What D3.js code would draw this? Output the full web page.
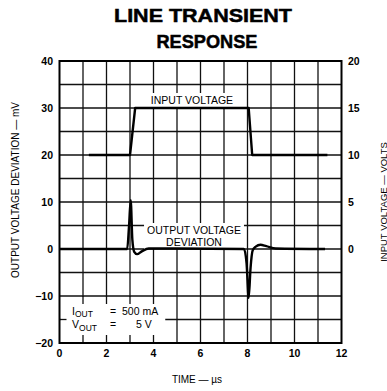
<!DOCTYPE html>
<html><head><meta charset="utf-8">
<script src="https://cdn.jsdelivr.net/npm/d3@7"></script>
<style>
html,body{margin:0;padding:0;background:#fff;overflow:hidden}
svg{display:block;font-family:"Liberation Sans",Arial,Helvetica,sans-serif}
</style></head>
<body><svg id="c" width="387" height="391"></svg>
<script>
// ---- data ----
const titleLines = ["LINE TRANSIENT", "RESPONSE"];
const xTicks = [0, 2, 4, 6, 8, 10, 12];
const leftTicks = [-20, -10, 0, 10, 20, 30, 40];
const rightTicks = [0, 5, 10, 15, 20];
const inputTime  = [1.25, 3.0, 3.22, 8.05, 8.2, 11.4];
const inputVolts = [10, 10, 15, 15, 10, 10];
const outputTime = [0.0, 2.88, 2.96, 3.03, 3.1, 3.18, 3.3, 3.5, 3.8, 5.0, 7.85, 7.96, 8.05, 8.13, 8.22, 8.35, 8.55, 8.8, 9.2, 11.3];
const outputMv   = [0.0, 0.0, 5.0, 10.4, 2.0, -0.6, -1.1, -0.5, 0.1, 0.1, 0.0, -3.0, -10.4, -4.0, -0.3, 0.5, 0.9, 0.6, 0.1, 0.0];
const xLabel = "TIME — µs";
const leftLabel = "OUTPUT VOLTAGE DEVIATION — mV";
const rightLabel = "INPUT VOLTAGE — VOLTS";

// ---- layout ----
const L = 59.5, R = 341.5, T = 61, B = 343;
const svg = d3.select("#c");
const x = d3.scaleLinear().domain([0, 12]).range([L, R]);
const yL = d3.scaleLinear().domain([-20, 40]).range([B, T]);
const yR = d3.scaleLinear().domain([-10, 20]).range([B, T]);

// title
svg.append("text").attr("x", 203).attr("y", 22).attr("text-anchor", "middle")
  .attr("font-size", 19).attr("font-weight", "bold").attr("textLength", 178)
  .attr("lengthAdjust", "spacingAndGlyphs").attr("stroke", "#000").attr("stroke-width", 0.5)
  .text(titleLines[0]);
svg.append("text").attr("x", 207).attr("y", 48).attr("text-anchor", "middle")
  .attr("font-size", 19).attr("font-weight", "bold").attr("textLength", 101)
  .attr("lengthAdjust", "spacingAndGlyphs").attr("stroke", "#000").attr("stroke-width", 0.5)
  .text(titleLines[1]);

// grid
const g = svg.append("g");
const vgrid = d3.range(1, 12);
const hgrid = d3.range(-15, 40, 5);
g.selectAll(".vg").data(vgrid).join("line")
  .attr("x1", d => x(d)).attr("x2", d => x(d)).attr("y1", T).attr("y2", B)
  .attr("stroke", "#111").attr("stroke-width", 1.3);
g.selectAll(".hg").data(hgrid).join("line")
  .attr("x1", L).attr("x2", R).attr("y1", d => yL(d)).attr("y2", d => yL(d))
  .attr("stroke", "#111").attr("stroke-width", 1.3);

// annotation box (bottom-left) clears grid
g.append("rect").attr("x", L + 1).attr("y", yL(-10) + 1)
  .attr("width", x(4.5) - L - 1).attr("height", B - yL(-10) - 2).attr("fill", "#fff");
[1, 2, 3, 4].forEach(t => {
  g.append("line").attr("x1", x(t)).attr("x2", x(t)).attr("y1", yL(-10)).attr("y2", yL(-10) + 8)
    .attr("stroke", "#111").attr("stroke-width", 1.3);
  g.append("line").attr("x1", x(t)).attr("x2", x(t)).attr("y1", B).attr("y2", B - 8)
    .attr("stroke", "#111").attr("stroke-width", 1.3);
});
g.append("line").attr("x1", L).attr("x2", L + 7).attr("y1", yL(-15)).attr("y2", yL(-15))
  .attr("stroke", "#111").attr("stroke-width", 1.3);

// border
svg.append("rect").attr("x", L).attr("y", T).attr("width", R - L).attr("height", B - T)
  .attr("fill", "none").attr("stroke", "#000").attr("stroke-width", 2);

// annotation texts with white backgrounds
function label(lines, cx, baselines, size) {
  const grp = svg.append("g");
  lines.forEach((s, i) => {
    grp.append("text").attr("x", cx).attr("y", baselines[i]).attr("text-anchor", "middle")
      .attr("font-size", size).text(s);
  });
  const bb = grp.node().getBBox();
  grp.insert("rect", ":first-child").attr("x", bb.x - 3).attr("y", bb.y - 1)
    .attr("width", bb.width + 6).attr("height", bb.height + 2).attr("fill", "#fff");
}
label(["INPUT VOLTAGE"], 192, [104], 10.5);
label(["OUTPUT VOLTAGE", "DEVIATION"], 194, [234, 246], 10.5);

// curves
const lineIn = d3.line().x((d, i) => x(inputTime[i])).y(d => yR(d));
svg.append("path").attr("d", lineIn(inputVolts)).attr("fill", "none")
  .attr("stroke", "#000").attr("stroke-width", 2.4).attr("stroke-linejoin", "round");
const lineOut = d3.line().x((d, i) => x(outputTime[i])).y(d => yL(d)).curve(d3.curveMonotoneX);
svg.append("path").attr("d", lineOut(outputMv)).attr("fill", "none")
  .attr("stroke", "#000").attr("stroke-width", 2.4).attr("stroke-linejoin", "round");

// IOUT / VOUT text
function subText(xp, y, main, sub) {
  const t = svg.append("text").attr("x", xp).attr("y", y).attr("font-size", 10.5);
  t.append("tspan").text(main);
  t.append("tspan").attr("dy", 2.5).attr("font-size", 8.5).text(sub);
  return t;
}
subText(72, 314.5, "I", "OUT");
svg.append("text").attr("x", 110).attr("y", 315).attr("font-size", 10.5).text("=");
svg.append("text").attr("x", 122).attr("y", 315).attr("font-size", 10.5).text("500 mA");
subText(72, 328, "V", "OUT");
svg.append("text").attr("x", 110).attr("y", 328).attr("font-size", 10.5).text("=");
svg.append("text").attr("x", 136).attr("y", 328).attr("font-size", 10.5).text("5 V");

// axes labels
const tf = "bold";
svg.selectAll(".lt").data(leftTicks).join("text")
  .attr("x", 53).attr("y", d => yL(d) + 4).attr("text-anchor", "end")
  .attr("font-size", 10.5).attr("font-weight", tf)
  .text(d => d < 0 ? "\u2212" + Math.abs(d) : d);
svg.selectAll(".rt").data(rightTicks).join("text")
  .attr("x", 348).attr("y", d => yR(d) + 4).attr("text-anchor", "start")
  .attr("font-size", 10.5).attr("font-weight", tf).text(d => d);
svg.selectAll(".bt").data(xTicks).join("text")
  .attr("x", d => x(d)).attr("y", 357).attr("text-anchor", "middle")
  .attr("font-size", 10.5).attr("font-weight", tf).text(d => d);

svg.append("text").attr("x", 197).attr("y", 383).attr("text-anchor", "middle")
  .attr("font-size", 10).text(xLabel);
svg.append("text").attr("transform", "translate(18.5,190) rotate(-90)")
  .attr("text-anchor", "middle").attr("font-size", 10).text(leftLabel);
svg.append("text").attr("transform", "translate(386.5,202) rotate(-90)")
  .attr("text-anchor", "middle").attr("font-size", 9.5).text(rightLabel);
</script></body></html>
